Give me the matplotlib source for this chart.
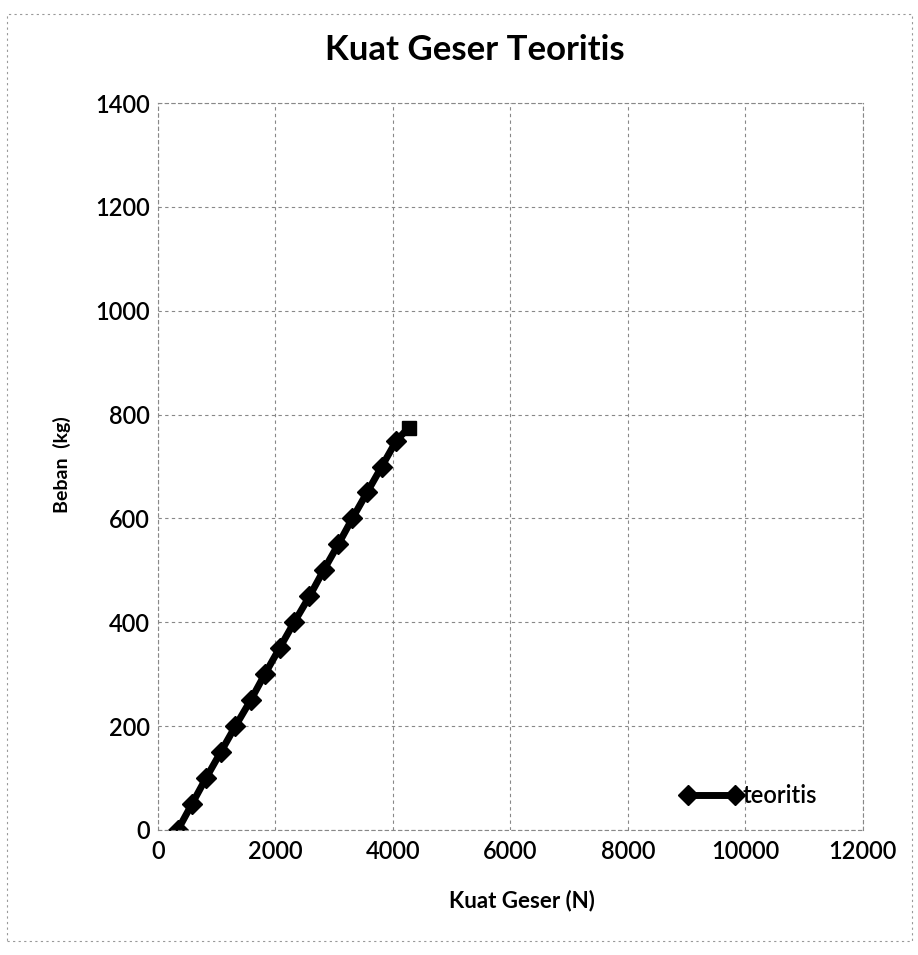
import matplotlib.pyplot as plt
from matplotlib.patches import Rectangle

# data
kuat_geser = [340, 580, 820, 1070, 1320, 1580, 1820, 2070, 2320, 2580,
              2820, 3070, 3310, 3560, 3810, 4060, 4270]
beban = [0, 50, 100, 150, 200, 250, 300, 350, 400, 450,
         500, 550, 600, 650, 700, 750, 775]

x_ticks = [0, 2000, 4000, 6000, 8000, 10000, 12000]
y_ticks = [0, 200, 400, 600, 800, 1000, 1200, 1400]

plt.rcParams['font.family'] = ['Lato', 'DejaVu Sans']

fig = plt.figure(figsize=(9.18, 9.55), dpi=100)
ax = fig.add_axes([0.172, 0.131, 0.768, 0.761])

ax.plot(kuat_geser[:-1], beban[:-1], color='black', linewidth=5,
        marker='D', markersize=10, label='teoritis')
ax.plot(kuat_geser[-2:], beban[-2:], color='black', linewidth=5)
ax.plot(kuat_geser[-1], beban[-1], color='black', marker='s', markersize=10)

ax.set_xlim(0, 12000)
ax.set_ylim(0, 1400)
ax.set_xticks(x_ticks)
ax.set_yticks(y_ticks)
ax.tick_params(axis='x', length=0, labelsize=17, pad=7)
ax.tick_params(axis='y', length=0, labelsize=17, pad=6)
for lab in ax.get_xticklabels() + ax.get_yticklabels():
    lab.set_fontweight('semibold')

ax.grid(True, color='#888888', linestyle=(0, (3, 3)), linewidth=0.8)
for s in ax.spines.values():
    s.set_color('#888888')
    s.set_linestyle((0, (3, 3)))
    s.set_linewidth(0.8)

fig.text(0.517, 0.948, 'Kuat Geser Teoritis', fontsize=25, fontweight='bold',
         ha='center', va='center')
fig.text(0.569, 0.057, 'Kuat Geser (N)', fontsize=16, fontweight='bold',
         ha='center', va='center')
fig.text(0.067, 0.513, 'Beban  (kg)', fontsize=14, fontweight='bold',
         ha='center', va='center', rotation=90)

leg = ax.legend(loc='center left', bbox_to_anchor=(0.712, 0.047), frameon=False,
                numpoints=2, handlelength=2.6, fontsize=17, handletextpad=0.0)
for t in leg.get_texts():
    t.set_fontweight('semibold')

fig.patches.append(Rectangle((0.008, 0.015), 0.985, 0.97, transform=fig.transFigure,
                             fill=False, edgecolor='#999999', linewidth=0.8,
                             linestyle=(0, (2, 3))))

fig.savefig('out.png', dpi=100)
